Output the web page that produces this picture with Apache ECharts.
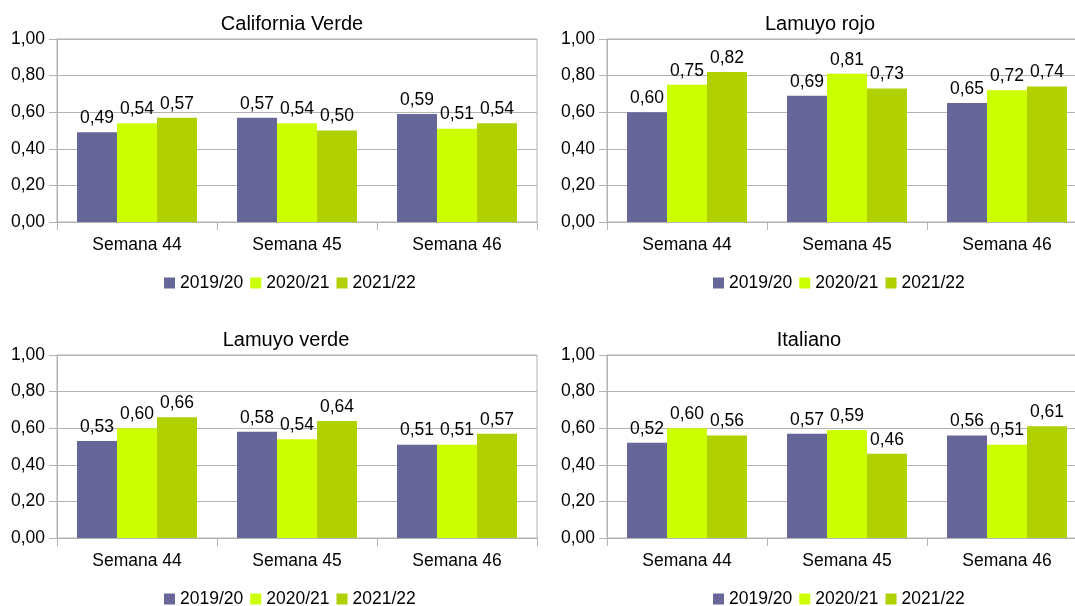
<!DOCTYPE html>
<html>
<head>
<meta charset="utf-8">
<script src="https://cdn.jsdelivr.net/npm/echarts@6/dist/echarts.min.js"></script>
<style>
html, body { margin: 0; padding: 0; background: #fff; }
#main { width: 1075px; height: 606px; }
</style>
</head>
<body>
<div id="main"></div>
<script>
const weeks = ["Semana 44", "Semana 45", "Semana 46"];
const seasons = ["2019/20", "2020/21", "2021/22"];
const panelTitles = ["California Verde", "Lamuyo rojo", "Lamuyo verde", "Italiano"];

// values per panel, one array per season
const californiaVerde = [[0.49, 0.57, 0.59], [0.54, 0.54, 0.51], [0.57, 0.50, 0.54]];
const lamuyoRojo = [[0.60, 0.69, 0.65], [0.75, 0.81, 0.72], [0.82, 0.73, 0.74]];
const lamuyoVerde = [[0.53, 0.58, 0.51], [0.60, 0.54, 0.51], [0.66, 0.64, 0.57]];
const italiano = [[0.52, 0.57, 0.56], [0.60, 0.59, 0.51], [0.56, 0.46, 0.61]];
const yTicks = [0, 0.2, 0.4, 0.6, 0.8, 1.0];

const panels = [californiaVerde, lamuyoRojo, lamuyoVerde, italiano];
const colors = ["#666699", "#ccff00", "#b0d000"];
const font = "Liberation Sans";
const fmt = v => v.toFixed(2).replace(".", ",");

// panel boxes
const boxes = [
    { left: 57, top: 39, title: 292, legend: 164 },
    { left: 607, top: 39, title: 820, legend: 713 },
    { left: 57, top: 355, title: 286, legend: 164 },
    { left: 607, top: 355, title: 809, legend: 713 },
];

let grid = [], xAxis = [], yAxis = [], series = [], title = [], legend = [];

boxes.forEach(function (b, i) {
    grid.push({
        left: b.left, top: b.top, width: 480, height: 183,
        outerBoundsMode: "none",
        show: true, borderColor: "#b3b3b3", borderWidth: 1,
    });
    title.push({
        text: panelTitles[i], left: b.title, top: b.top - 25, textAlign: "center", padding: 0,
        textStyle: { fontFamily: font, fontSize: 20, fontWeight: "normal", color: "#000" },
    });
    legend.push({
        data: seasons, left: b.legend, top: b.top + 235, padding: 0,
        itemWidth: 11, itemHeight: 11, itemGap: 7, icon: "rect",
        textStyle: { fontFamily: font, fontSize: 17.5, color: "#000" },
    });
    xAxis.push({
        type: "category", gridIndex: i, data: weeks,
        axisLine: { lineStyle: { color: "#b3b3b3" } },
        axisTick: { show: true, length: 8, lineStyle: { color: "#b3b3b3" } },
        axisLabel: { margin: 14, fontFamily: font, fontSize: 17.5, color: "#000" },
    });
    yAxis.push({
        type: "value", gridIndex: i, min: 0, max: 1, interval: 0.2,
        axisLine: { show: true, lineStyle: { color: "#b3b3b3" } },
        axisTick: { show: true, length: 8, lineStyle: { color: "#b3b3b3" } },
        splitLine: { lineStyle: { color: "#b3b3b3" } },
        axisLabel: {
            margin: 12, fontFamily: font, fontSize: 17.5, color: "#000",
            formatter: v => fmt(v),
        },
    });
    seasons.forEach(function (s, k) {
        series.push({
            name: s, type: "bar", xAxisIndex: i, yAxisIndex: i,
            data: panels[i][k],
            barGap: "0%", barCategoryGap: "25%",
            itemStyle: { color: colors[k] },
            label: {
                show: true, position: "top", distance: 5,
                fontFamily: font, fontSize: 17.5, color: "#000",
                formatter: p => fmt(p.value),
            },
        });
    });
});

let chart = echarts.init(document.getElementById("main"));
chart.setOption({
    animation: false,
    color: colors,
    title: title,
    legend: legend,
    grid: grid,
    xAxis: xAxis,
    yAxis: yAxis,
    series: series,
});
</script>
</body>
</html>
